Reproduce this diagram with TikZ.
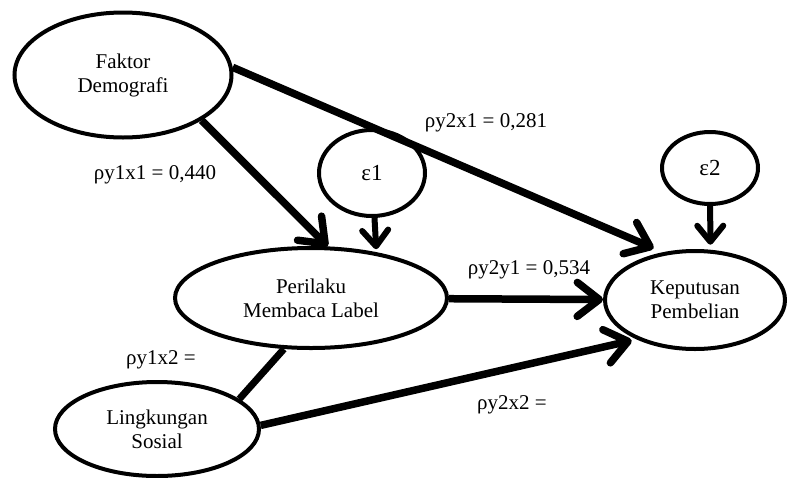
\documentclass[tikz,border=0pt]{standalone}
\usepackage{fontspec}
\setmainfont{Liberation Serif}
\usetikzlibrary{positioning,shapes,arrows.meta}

\begin{document}
\begin{tikzpicture}[x=1pt,y=-1pt,line width=4pt,
main node/.style={ellipse,draw,inner sep=0pt,align=center,font=\fontsize{21}{24}\selectfont},
err node/.style={ellipse,draw,inner sep=0pt,font=\fontsize{23}{26}\selectfont},
coef/.style={font=\fontsize{21}{24}\selectfont},
effect/.style={line width=7.5pt,-{Straight Barb[length=22pt,width=34pt,round]}},
err effect/.style={line width=6pt,-{Straight Barb[length=16pt,width=26pt,round]}},
link/.style={line width=7pt}]
\useasboundingbox (0,0) rectangle (800,477);

\node[main node,minimum width=217pt,minimum height=125pt] (1) at (123,75) {Faktor\\Demografi};
\node[main node,minimum width=204pt,minimum height=94pt] (2) at (157,429) {Lingkungan\\Sosial};
\node[main node,minimum width=272pt,minimum height=100pt] (3) at (311,298) {Perilaku\\Membaca Label};
\node[main node,minimum width=180pt,minimum height=98pt] (4) at (695,300) {Keputusan\\Pembelian};
\node[err node,minimum width=106pt,minimum height=86pt] (e1) at (372,173) {ε1};
\node[err node,minimum width=96pt,minimum height=72pt] (e2) at (710,168) {ε2};

\path[effect]
(1.-30) edge (3.72)
(1.4) edge[shorten >=10pt] (4.124)
(3) edge (4)
(2.2) edge[shorten >=5pt] (4.214)
;
\path[err effect]
(e1) edge[shorten >=3pt] (3.35)
(e2) edge[shorten >=5pt] (4.73)
;
\draw[link] (2.20) -- (3.242);

\node[coef] (c1) at (155,175) {ρy1x1 = 0,440};
\node[coef] (c2) at (486,123) {ρy2x1 = 0,281};
\node[coef] (c3) at (529,270) {ρy2y1 = 0,534};
\node[coef] (c4) at (161,360) {ρy1x2 =};
\node[coef] (c5) at (512,405) {ρy2x2 =};
\end{tikzpicture}
\end{document}
